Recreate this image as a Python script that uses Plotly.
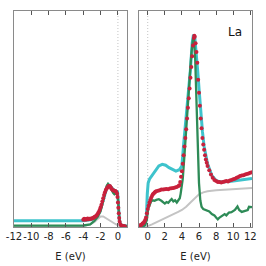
import plotly.graph_objects as go

# ---------------- data (E in eV, intensity in arbitrary units) ----------------
# Left panel (occupied states)
L_cyan_E = [-12, -4, -3.0, -2.5, -2.1, -1.8, -1.6, -1.4, -1.2, -1.0, -0.8, -0.6, -0.4, -0.2, -0.05, 0.05, 0.15, 0.3, 1.05]
L_cyan_v = [0.0245, 0.0245, 0.03, 0.045, 0.065, 0.11, 0.14, 0.17, 0.188, 0.19, 0.182, 0.172, 0.165, 0.163, 0.16, 0.11, 0.035, 0.005, 0.0]

L_green_E = [-12, -4, -3.2, -2.7, -2.3, -2.0, -1.7, -1.5, -1.3, -1.15, -0.95, -0.75, -0.55, -0.4, -0.25, -0.1, 0.0, 0.1, 0.2, 0.35, 1.05]
L_green_v = [0.002, 0.003, 0.008, 0.025, 0.045, 0.07, 0.117, 0.16, 0.187, 0.196, 0.185, 0.17, 0.155, 0.148, 0.152, 0.155, 0.13, 0.07, 0.02, 0.003, 0.0]

L_gray_E = [-12, -4, -3.2, -2.7, -2.3, -2.0, -1.7, -1.4, -1.0, -0.6, -0.3, 0.0, 0.3, 1.05]
L_gray_v = [0.0, 0.0, 0.008, 0.02, 0.035, 0.045, 0.045, 0.037, 0.027, 0.017, 0.01, 0.004, 0.0, 0.0]

L_red_E = [-4.0, -3.9, -3.8, -3.7, -3.6, -3.5, -3.4, -3.3, -3.2, -3.1, -3.0, -2.9, -2.8, -2.7, -2.6,
           -2.5, -2.4, -2.3, -2.2, -2.1, -2.0, -1.9, -1.8, -1.7, -1.6, -1.5, -1.4, -1.3, -1.2, -1.1,
           -1.0, -0.9, -0.8, -0.7, -0.6, -0.5, -0.4, -0.3, -0.2, -0.1, -0.05, 0.0, 0.05, 0.1, 0.15,
           0.2, 0.3, 0.4, 0.5, 0.6, 0.7, 0.8]
L_red_v = [0.030, 0.034, 0.030, 0.033, 0.031, 0.035, 0.032, 0.034, 0.033, 0.036, 0.035, 0.037, 0.040, 0.042, 0.045,
           0.048, 0.053, 0.060, 0.067, 0.076, 0.088, 0.100, 0.115, 0.130, 0.145, 0.158, 0.168, 0.175, 0.180, 0.185,
           0.187, 0.185, 0.178, 0.172, 0.168, 0.166, 0.165, 0.163, 0.160, 0.152, 0.135, 0.110, 0.085, 0.060, 0.038,
           0.020, 0.008, 0.003, 0.001, 0.0, 0.0, 0.0]

# Right panel (unoccupied states)
R_cyan_E = [-1.0, -0.5, -0.3, -0.15, -0.05, 0.05, 0.2, 0.5, 0.9, 1.3, 1.7, 2.1, 2.5, 2.9, 3.3, 3.7, 4.0,
            4.2, 4.4, 4.6, 4.8, 5.0, 5.2, 5.35, 5.5, 5.65, 5.85, 6.0, 6.2, 6.4, 6.6, 7.0, 7.5, 8.0, 8.5,
            9.0, 9.5, 10.0, 10.5, 11.0, 11.5, 12.2]
R_cyan_v = [0.0, 0.0, 0.01, 0.05, 0.15, 0.2, 0.218, 0.235, 0.26, 0.28, 0.287, 0.283, 0.272, 0.262, 0.256, 0.262, 0.28,
            0.38, 0.46, 0.54, 0.63, 0.73, 0.85, 0.89, 0.88, 0.82, 0.72, 0.64, 0.52, 0.44, 0.37, 0.29, 0.235, 0.212, 0.205,
            0.205, 0.208, 0.21, 0.212, 0.215, 0.218, 0.222]

R_green_E = [-1.0, -0.5, -0.3, -0.1, 0.05, 0.2, 0.4, 0.6, 0.8, 1.0, 1.3, 1.6, 1.8, 2.0, 2.2, 2.4, 2.6, 2.8,
             3.0, 3.2, 3.4, 3.6, 3.75, 3.85, 3.95, 4.1, 4.3, 4.5, 4.7, 4.9, 5.1, 5.3, 5.4, 5.55, 5.7, 5.85,
             6.0, 6.15, 6.3, 6.5, 6.8, 7.0, 7.2, 7.5, 7.8, 8.0, 8.2, 8.4, 8.6, 8.8, 9.0, 9.2, 9.5, 9.8,
             10.0, 10.2, 10.5, 10.7, 11.0, 11.3, 11.5, 11.7, 11.85, 12.0, 12.2]
R_green_v = [0.0, 0.0, 0.005, 0.03, 0.08, 0.1, 0.115, 0.12, 0.118, 0.122, 0.125, 0.118, 0.11, 0.105, 0.112, 0.108, 0.118, 0.126,
             0.115, 0.12, 0.11, 0.12, 0.13, 0.15, 0.18, 0.22, 0.33, 0.45, 0.57, 0.69, 0.80, 0.87, 0.87, 0.78, 0.60, 0.35,
             0.20, 0.12, 0.09, 0.079, 0.075, 0.071, 0.068, 0.056, 0.05, 0.04, 0.032, 0.04, 0.045, 0.05, 0.056, 0.05, 0.063, 0.065,
             0.07, 0.075, 0.091, 0.075, 0.066, 0.07, 0.07, 0.075, 0.09, 0.088, 0.088]

R_gray_E = [-1.0, 0.0, 0.5, 1.0, 1.5, 2.0, 2.5, 3.0, 3.5, 4.0, 4.5, 5.0, 5.5, 6.0, 6.5, 7.0, 8.0, 9.0, 10.0, 11.0, 12.2]
R_gray_v = [0.0, 0.0, 0.008, 0.017, 0.026, 0.035, 0.045, 0.055, 0.065, 0.075, 0.09, 0.11, 0.13, 0.148, 0.157, 0.162,
            0.167, 0.17, 0.173, 0.175, 0.177]

R_red_E = [-1.0, -0.9, -0.8, -0.7, -0.6, -0.5, -0.4, -0.3, -0.2, -0.1, 0.0, 0.1, 0.2, 0.3, 0.4, 0.5, 0.6, 0.7,
           0.8, 0.9, 1.0, 1.2, 1.4, 1.6, 1.8, 2.0, 2.2, 2.4, 2.6, 2.8, 3.0, 3.2, 3.4, 3.6, 3.7, 3.8, 3.9,
           4.0, 4.1, 4.2, 4.3, 4.4, 4.5, 4.6, 4.7, 4.8, 4.9, 5.0, 5.1, 5.2, 5.3, 5.4, 5.45, 5.5, 5.6, 5.7,
           5.8, 5.9, 6.0, 6.1, 6.2, 6.3, 6.4, 6.5, 6.6, 6.7, 6.8, 6.9, 7.0, 7.2, 7.4, 7.6, 7.8, 8.0, 8.2,
           8.4, 8.6, 8.8, 9.0, 9.2, 9.4, 9.6, 9.8, 10.0, 10.2, 10.4, 10.6, 10.8, 11.0, 11.2, 11.4, 11.6,
           11.8, 12.0, 12.2]
R_red_v = [0.0, 0.003, 0.005, 0.008, 0.012, 0.015, 0.02, 0.028, 0.04, 0.06, 0.08, 0.095, 0.11, 0.122, 0.132, 0.14, 0.148, 0.152,
           0.156, 0.16, 0.162, 0.165, 0.167, 0.17, 0.17, 0.172, 0.173, 0.172, 0.175, 0.176, 0.177, 0.18, 0.182, 0.187, 0.19, 0.205, 0.23,
           0.255, 0.29, 0.33, 0.37, 0.41, 0.45, 0.5, 0.55, 0.595, 0.64, 0.69, 0.74, 0.79, 0.84, 0.875, 0.885, 0.88, 0.85, 0.81,
           0.76, 0.68, 0.62, 0.56, 0.5, 0.455, 0.41, 0.38, 0.355, 0.33, 0.31, 0.295, 0.28, 0.26, 0.24, 0.225, 0.215, 0.21, 0.205,
           0.205, 0.203, 0.205, 0.207, 0.21, 0.208, 0.212, 0.215, 0.218, 0.22, 0.225, 0.228, 0.233, 0.235, 0.237, 0.24, 0.242,
           0.245, 0.248, 0.25]

left_tickvals = [-12, -10, -8, -6, -4, -2, 0]
left_ticktext = ["-12", "-10", "-8", "-6", "-4", "-2", "0"]
right_tickvals = [0, 2, 4, 6, 8, 10, 12]
right_ticktext = ["0", "2", "4", "6", "8", "10", "12"]
element_label = "La"
x_title = "E (eV)"

# ---------------- styles ----------------
CYAN = "#3ec3cc"
GREEN = "#2e8b57"
RED = "#c8203c"
GRAY = "#c4c4c4"
FRAME = "#8a8a8a"
FONT = "DejaVu Sans"

fig = go.Figure()

def add_panel(xa, ya, gE, gv, cE, cv, grE, grv, rE, rv):
    fig.add_trace(go.Scatter(x=gE, y=gv, mode="lines", line=dict(color=GRAY, width=2),
                             xaxis=xa, yaxis=ya, showlegend=False, hoverinfo="skip"))
    fig.add_trace(go.Scatter(x=cE, y=cv, mode="lines", line=dict(color=CYAN, width=3),
                             xaxis=xa, yaxis=ya, showlegend=False, hoverinfo="skip"))
    fig.add_trace(go.Scatter(x=grE, y=grv, mode="lines", line=dict(color=GREEN, width=2.3),
                             xaxis=xa, yaxis=ya, showlegend=False, hoverinfo="skip"))
    fig.add_trace(go.Scatter(x=rE, y=rv, mode="markers", marker=dict(color=RED, size=4),
                             xaxis=xa, yaxis=ya, showlegend=False, hoverinfo="skip"))

add_panel("x", "y", L_gray_E, L_gray_v, L_cyan_E, L_cyan_v, L_green_E, L_green_v, L_red_E, L_red_v)
add_panel("x2", "y2", R_gray_E, R_gray_v, R_cyan_E, R_cyan_v, R_green_E, R_green_v, R_red_E, R_red_v)

xcommon = dict(showline=True, linecolor=FRAME, linewidth=1, mirror="ticks", ticks="inside",
               ticklen=4, tickcolor="#555555", tickwidth=1, showgrid=False, zeroline=False,
               tickangle=0, automargin=False,
               tickfont=dict(family=FONT, size=10, color="#222"),
               title=dict(text=x_title, font=dict(family=FONT, size=10, color="#222"), standoff=11))
ycommon = dict(showline=True, linecolor=FRAME, linewidth=1, mirror=True, ticks="",
               showticklabels=False, showgrid=False, zeroline=False, range=[-0.004, 1.0],
               automargin=False)

ydom = [1 - 227 / 266, 1 - 11 / 266]
fig.update_layout(
    width=266, height=266, margin=dict(l=0, r=0, t=0, b=0, autoexpand=False),
    paper_bgcolor="white", plot_bgcolor="white",
    xaxis=dict(xcommon, domain=[14 / 266, 127 / 266], range=[-12, 1.05],
               tickvals=left_tickvals, ticktext=left_ticktext),
    yaxis=dict(ycommon, domain=ydom, anchor="x"),
    xaxis2=dict(xcommon, domain=[139 / 266, 252 / 266], range=[-1.02, 12.2],
                tickvals=right_tickvals, ticktext=right_ticktext, anchor="y2"),
    yaxis2=dict(ycommon, domain=ydom, anchor="x2"),
    annotations=[dict(text=element_label, x=235 / 266, y=1 - 32 / 266, xref="paper", yref="paper",
                      xanchor="center", yanchor="middle",
                      showarrow=False, font=dict(family=FONT, size=12, color="#111"))],
    shapes=[
        dict(type="line", xref="x", yref="y domain", x0=0, x1=0, y0=0, y1=1,
             line=dict(color="#c4c4c4", width=1, dash="1px,2px"), layer="below"),
        dict(type="line", xref="x2", yref="y2 domain", x0=0, x1=0, y0=0, y1=1,
             line=dict(color="#c4c4c4", width=1, dash="1px,2px"), layer="below"),
    ],
)

fig.write_html("out.html", config={"displayModeBar": False},
               post_script="document.body.style.margin='0';document.body.style.padding='0';")
